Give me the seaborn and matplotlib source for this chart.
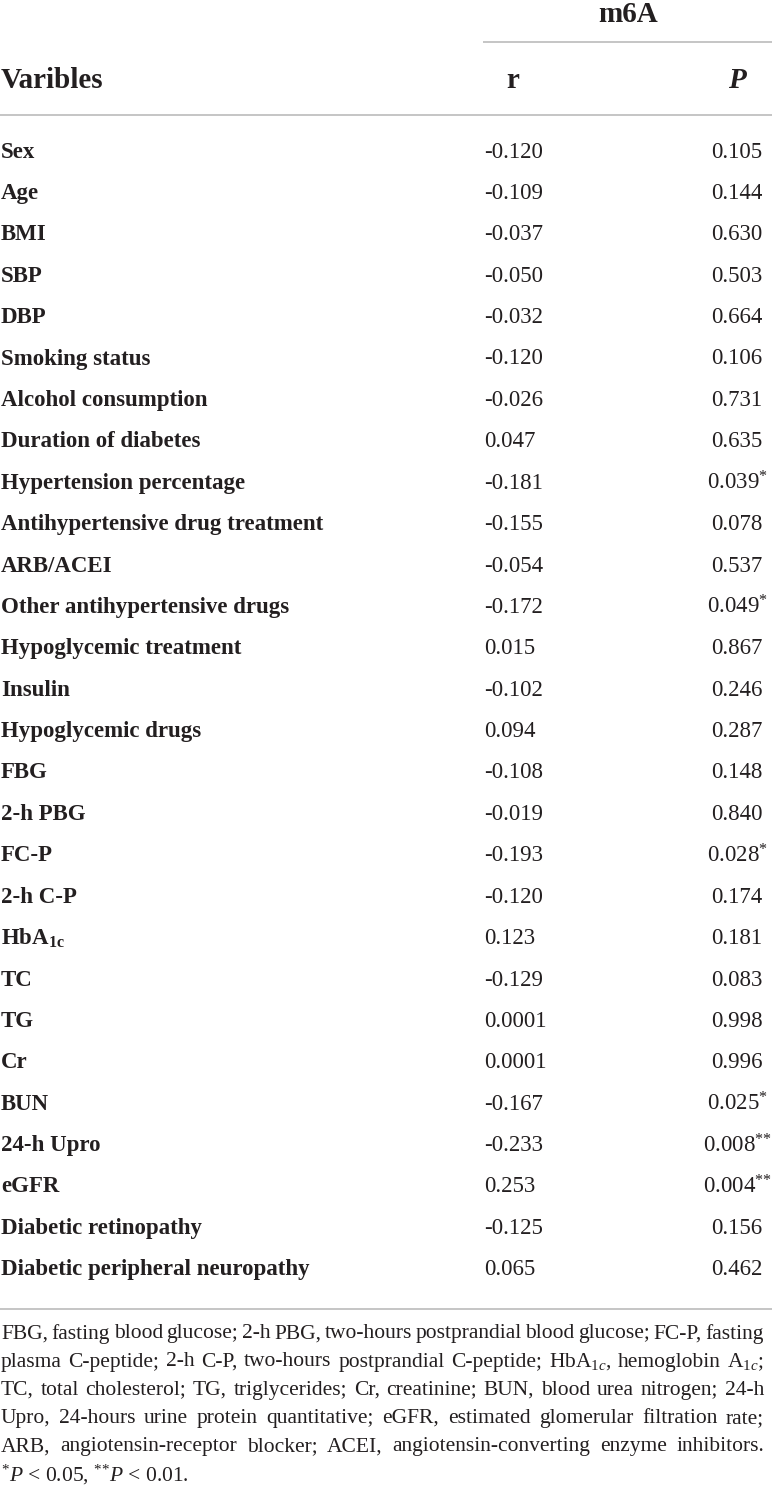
import pandas as pd
import numpy as np
import matplotlib
matplotlib.use("Agg")
import matplotlib.pyplot as plt
import seaborn as sns

variables = ["Sex", "Age", "BMI", "SBP", "DBP", "Smoking status", "Alcohol consumption",
             "Duration of diabetes", "Hypertension percentage",
             "Antihypertensive drug treatment", "ARB/ACEI", "Other antihypertensive drugs",
             "Hypoglycemic treatment", "Insulin", "Hypoglycemic drugs", "FBG", "2-h PBG",
             "FC-P", "2-h C-P", r"HbA$_{\mathbf{1c}}$", "TC", "TG", "Cr", "BUN", "24-h Upro",
             "eGFR", "Diabetic retinopathy", "Diabetic peripheral neuropathy"]
r_values = ["-0.120", "-0.109", "-0.037", "-0.050", "-0.032", "-0.120", "-0.026", "0.047",
            "-0.181", "-0.155", "-0.054", "-0.172", "0.015", "-0.102", "0.094", "-0.108",
            "-0.019", "-0.193", "-0.120", "0.123", "-0.129", "0.0001", "0.0001", "-0.167",
            "-0.233", "0.253", "-0.125", "0.065"]
p_values = [0.105, 0.144, 0.630, 0.503, 0.664, 0.106, 0.731, 0.635, 0.039, 0.078, 0.537,
            0.049, 0.867, 0.246, 0.287, 0.148, 0.840, 0.028, 0.174, 0.181, 0.083, 0.998,
            0.996, 0.025, 0.008, 0.004, 0.156, 0.462]

footnote = [
    "FBG, fasting blood glucose; 2-h PBG, two-hours postprandial blood glucose; FC-P, fasting",
    "plasma C-peptide; 2-h C-P, two-hours postprandial C-peptide; HbA$_{1c}$, hemoglobin A$_{1c}$;",
    "TC, total cholesterol; TG, triglycerides; Cr, creatinine; BUN, blood urea nitrogen; 24-h",
    "Upro, 24-hours urine protein quantitative; eGFR, estimated glomerular filtration rate;",
    "ARB, angiotensin-receptor blocker; ACEI, angiotensin-converting enzyme inhibitors.",
    "$^{*}P$ < 0.05, $^{{*}{*}}P$ < 0.01.",
]

df = pd.DataFrame({"var": variables, "r": r_values, "p": p_values})


def stars(p):
    if p < 0.01:
        return "$^{{*}{*}}$"
    if p < 0.05:
        return "$^{*}$"
    return ""


df["p_txt"] = [f"{p:.3f}" + stars(p) for p in df["p"]]

sns.set_theme(style="white")
plt.rcParams["font.family"] = ["Liberation Serif", "DejaVu Serif"]
plt.rcParams["mathtext.fontset"] = "custom"
plt.rcParams["mathtext.rm"] = "Liberation Serif"
plt.rcParams["mathtext.it"] = "Liberation Serif:italic"
plt.rcParams["mathtext.bf"] = "Liberation Serif:bold"

ink = "#231f20"
rule = "#b5b5b5"

fig = plt.figure(figsize=(7.72, 14.85), dpi=100)
ax = fig.add_axes([0, 0, 1, 1])
ax.set_xlim(0, 772)
ax.set_ylim(1485, 0)
ax.axis("off")

# header
hsize = 21
ax.text(628, 15, "m6A", ha="center", va="center", fontsize=hsize, fontweight="bold", color=ink)
ax.hlines(42, 483, 772, color=rule, lw=1.1)
ax.text(1, 80, "Varibles", ha="left", va="center", fontsize=hsize, fontweight="bold", color=ink)
ax.text(513, 80, "r", ha="center", va="center", fontsize=hsize, fontweight="bold", color=ink)
ax.text(737, 80, "P", ha="center", va="center", fontsize=hsize, fontweight="bold",
        fontstyle="italic", color=ink)
ax.hlines(115, 0, 772, color=rule, lw=1.1)

# body rows
y0, step = 152, 41.4
for i, row in df.iterrows():
    y = y0 + i * step
    ax.text(1, y, row["var"], ha="left", va="center", fontsize=16.5, fontweight="bold", color=ink)
    ax.text(484, y, row["r"], ha="left", va="center", fontsize=16.5, color=ink)
    ax.text(737, y, row["p_txt"], ha="center", va="center", fontsize=16.5, color=ink)

last_y = y0 + (len(df) - 1) * step
ax.hlines(last_y + 39, 0, 772, color=rule, lw=1.1)

# footnote, justified like the journal layout
renderer = fig.canvas.get_renderer()
fy = last_y + 64
fsize = 15.5
for k, line in enumerate(footnote):
    y = fy + k * 28.2
    if k == len(footnote) - 1:
        ax.text(1, y, line, ha="left", va="center", fontsize=fsize, color=ink)
        continue
    words = line.split(" ")
    texts = [ax.text(0, y, w, ha="left", va="center", fontsize=fsize, color=ink) for w in words]
    widths = [t.get_window_extent(renderer).width for t in texts]
    gap = (764 - 1 - sum(widths)) / (len(words) - 1)
    x = 1
    for t, w in zip(texts, widths):
        t.set_x(x)
        x += w + gap

fig.savefig("out.png", dpi=100)
